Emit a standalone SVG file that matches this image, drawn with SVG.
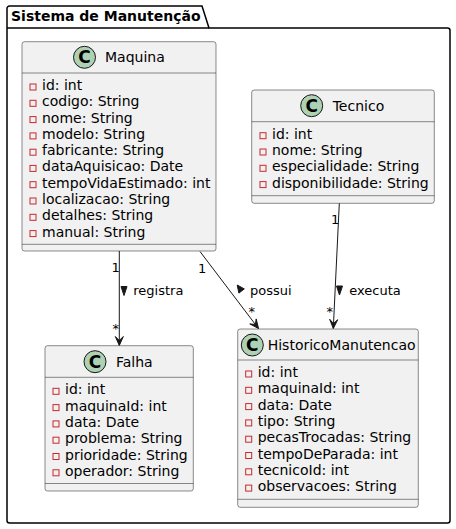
<svg xmlns="http://www.w3.org/2000/svg" width="456" height="529" viewBox="0 0 456 529">
<style>
text{font-family:"DejaVu Sans","Liberation Sans",sans-serif;fill:#000}
.pkg{fill:none;stroke:#000;stroke-width:1.5}
.box{fill:#F1F1F1;stroke:#181818;stroke-width:0.5}
.div{stroke:#181818;stroke-width:0.5}
.circ{fill:#ADD1B2;stroke:#181818;stroke-width:1}
.cl{font-size:17px;font-weight:bold;text-anchor:middle}
.name{font-size:14px}
.attr{font-size:14px}
.priv{fill:none;stroke:#C82930;stroke-width:1}
.edge{stroke:#181818;stroke-width:1;fill:none}
.head{fill:#181818;stroke:#181818;stroke-width:1}
.lbl{font-size:13px}
.title{font-size:14px;font-weight:bold}
</style>
<g id="package">
<path class="pkg" d="M7,8.5 A2.5,2.5 0 0 1 9.5,6 L202,6 L209,28 L447.5,28 A2.5,2.5 0 0 1 450,30.5 L450,520.5 A2.5,2.5 0 0 1 447.5,523 L9.5,523 A2.5,2.5 0 0 1 7,520.5 Z"/>
<line class="pkg" x1="7" y1="28" x2="209" y2="28"/>
<text class="title" x="11" y="21">Sistema de Manutenção</text>
</g>
<g id="Maquina">
<rect class="box" x="22" y="41.7" width="194" height="209.3" rx="2.5"/>
<circle class="circ" cx="84.5" cy="57.3" r="11"/>
<text class="cl" x="84.5" y="63.3">C</text>
<text class="name" x="105" y="62.3">Maquina</text>
<line class="div" x1="22" y1="73" x2="216" y2="73"/>
<g class="attr">
<rect class="priv" x="30" y="84" width="6" height="6"/><text x="42" y="90">id: int</text>
<rect class="priv" x="30" y="100.3" width="6" height="6"/><text x="42" y="106.3">codigo: String</text>
<rect class="priv" x="30" y="116.6" width="6" height="6"/><text x="42" y="122.6">nome: String</text>
<rect class="priv" x="30" y="132.9" width="6" height="6"/><text x="42" y="138.9">modelo: String</text>
<rect class="priv" x="30" y="149.2" width="6" height="6"/><text x="42" y="155.2">fabricante: String</text>
<rect class="priv" x="30" y="165.4" width="6" height="6"/><text x="42" y="171.4">dataAquisicao: Date</text>
<rect class="priv" x="30" y="181.7" width="6" height="6"/><text x="42" y="187.7">tempoVidaEstimado: int</text>
<rect class="priv" x="30" y="198" width="6" height="6"/><text x="42" y="204">localizacao: String</text>
<rect class="priv" x="30" y="214.3" width="6" height="6"/><text x="42" y="220.3">detalhes: String</text>
<rect class="priv" x="30" y="230.6" width="6" height="6"/><text x="42" y="236.6">manual: String</text>
</g>
<line class="div" x1="22" y1="244.3" x2="216" y2="244.3"/>
</g>
<g id="Tecnico">
<rect class="box" x="251.7" y="90" width="182.6" height="113.3" rx="2.5"/>
<circle class="circ" cx="311.7" cy="105.7" r="11"/>
<text class="cl" x="311.7" y="111.7">C</text>
<text class="name" x="332.7" y="110.7">Tecnico</text>
<line class="div" x1="251.7" y1="121.7" x2="434.3" y2="121.7"/>
<g class="attr">
<rect class="priv" x="260" y="132.7" width="6" height="6"/><text x="272" y="138.7">id: int</text>
<rect class="priv" x="260" y="149" width="6" height="6"/><text x="272" y="155">nome: String</text>
<rect class="priv" x="260" y="165.3" width="6" height="6"/><text x="272" y="171.3">especialidade: String</text>
<rect class="priv" x="260" y="181.6" width="6" height="6"/><text x="272" y="187.6">disponibilidade: String</text>
</g>
<line class="div" x1="251.7" y1="195.7" x2="434.3" y2="195.7"/>
</g>
<g id="Falha">
<rect class="box" x="45" y="345.7" width="148.3" height="145.3" rx="2.5"/>
<circle class="circ" cx="95" cy="361.7" r="11"/>
<text class="cl" x="95" y="367.7">C</text>
<text class="name" x="116" y="366.5">Falha</text>
<line class="div" x1="45" y1="377.3" x2="193.3" y2="377.3"/>
<g class="attr">
<rect class="priv" x="53" y="388.3" width="6" height="6"/><text x="65" y="394.3">id: int</text>
<rect class="priv" x="53" y="404.6" width="6" height="6"/><text x="65" y="410.6">maquinaId: int</text>
<rect class="priv" x="53" y="420.9" width="6" height="6"/><text x="65" y="426.9">data: Date</text>
<rect class="priv" x="53" y="437.2" width="6" height="6"/><text x="65" y="443.2">problema: String</text>
<rect class="priv" x="53" y="453.5" width="6" height="6"/><text x="65" y="459.5">prioridade: String</text>
<rect class="priv" x="53" y="469.8" width="6" height="6"/><text x="65" y="475.8">operador: String</text>
</g>
<line class="div" x1="45" y1="483.5" x2="193.3" y2="483.5"/>
</g>
<g id="HistoricoManutencao">
<rect class="box" x="237.7" y="329" width="180.6" height="178.3" rx="2.5"/>
<circle class="circ" cx="252.3" cy="345" r="11"/>
<text class="cl" x="252.3" y="351">C</text>
<text class="name" x="267.7" y="350">HistoricoManutencao</text>
<line class="div" x1="237.7" y1="360" x2="418.3" y2="360"/>
<g class="attr">
<rect class="priv" x="245.7" y="371" width="6" height="6"/><text x="257.7" y="377">id: int</text>
<rect class="priv" x="245.7" y="387.3" width="6" height="6"/><text x="257.7" y="393.3">maquinaId: int</text>
<rect class="priv" x="245.7" y="403.6" width="6" height="6"/><text x="257.7" y="409.6">data: Date</text>
<rect class="priv" x="245.7" y="419.9" width="6" height="6"/><text x="257.7" y="425.9">tipo: String</text>
<rect class="priv" x="245.7" y="436.2" width="6" height="6"/><text x="257.7" y="442.2">pecasTrocadas: String</text>
<rect class="priv" x="245.7" y="452.5" width="6" height="6"/><text x="257.7" y="458.5">tempoDeParada: int</text>
<rect class="priv" x="245.7" y="468.8" width="6" height="6"/><text x="257.7" y="474.8">tecnicoId: int</text>
<rect class="priv" x="245.7" y="485.1" width="6" height="6"/><text x="257.7" y="491.1">observacoes: String</text>
</g>
<line class="div" x1="237.7" y1="499.3" x2="418.3" y2="499.3"/>
</g>
<g id="connectors">
<line class="edge" x1="119.3" y1="251" x2="119.3" y2="345"/>
<polygon class="head" points="119.3,345.5 115.3,336.5 119.3,340.5 123.3,336.5"/>
<text class="lbl" x="111.5" y="272">1</text>
<text class="lbl" x="112.5" y="333">*</text>
<polygon class="head" points="121,286.5 127,286.5 124,295.5"/>
<text class="lbl" x="133.3" y="294.5">registra</text>

<line class="edge" x1="200" y1="251.5" x2="258.3" y2="328.3"/>
<polygon class="head" points="258.5,328.5 256.2,318.9 255.4,324.5 249.8,323.9"/>
<text class="lbl" x="198" y="272.5">1</text>
<text class="lbl" x="248.5" y="316">*</text>
<polygon class="head" points="237.2,285 244.3,288.9 238.9,293.1"/>
<text class="lbl" x="250" y="294.5">possui</text>

<line class="edge" x1="339.3" y1="203.3" x2="333.3" y2="328.3"/>
<polygon class="head" points="333.3,328.5 337.7,319.7 333.5,323.5 329.7,319.3"/>
<text class="lbl" x="331" y="224">1</text>
<text class="lbl" x="326.5" y="316">*</text>
<polygon class="head" points="336.5,286 342.5,286 339.5,295"/>
<text class="lbl" x="349.3" y="294.5">executa</text>
</g>
</svg>
